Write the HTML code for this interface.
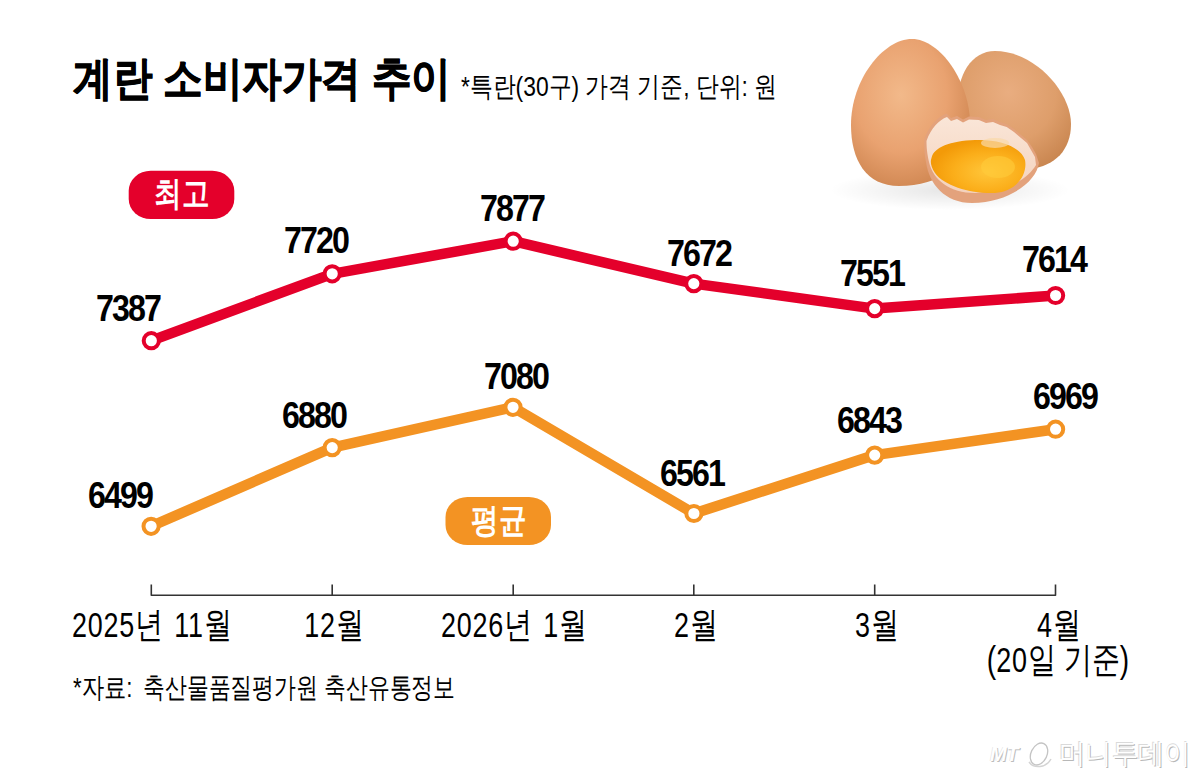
<!DOCTYPE html>
<html><head><meta charset="utf-8">
<style>
html,body{margin:0;padding:0;background:#fff;}
body{width:1200px;height:778px;position:relative;overflow:hidden;font-family:"Liberation Sans",sans-serif;color:#000;}
.t{position:absolute;white-space:nowrap;line-height:1;}
.c{transform:translateX(-50%) scaleX(var(--k));}
.l{transform-origin:0 0;transform:scaleX(var(--k));}
.num{font-weight:bold;font-size:37px;--k:0.87;letter-spacing:-2.2px;text-indent:0;}
.ax{font-size:36px;--k:0.78;word-spacing:4.4px;}
.d{font-size:34.5px;letter-spacing:1px;}
</style></head><body>
<div class="t l" style="left:73px;top:55px;font-size:46px;font-weight:bold;--k:0.86;-webkit-text-stroke:0.8px #000">계란 소비자가격 추이</div>
<div class="t l" style="left:461px;top:73px;font-size:28px;--k:0.816">*특란(30구) 가격 기준, 단위: 원</div>

<svg width="1200" height="778" style="position:absolute;left:0;top:0">
<defs>
<radialGradient id="eg1" cx="0.42" cy="0.38" r="0.65">
<stop offset="0" stop-color="#F2B98A"/><stop offset="0.6" stop-color="#E9A270"/><stop offset="1" stop-color="#D08752"/>
</radialGradient>
<radialGradient id="eg2" cx="0.45" cy="0.35" r="0.7">
<stop offset="0" stop-color="#E9AD80"/><stop offset="0.6" stop-color="#DE9E6B"/><stop offset="1" stop-color="#C98650"/>
</radialGradient>
<radialGradient id="yk" cx="0.6" cy="0.6" r="0.6">
<stop offset="0" stop-color="#FFC63A"/><stop offset="0.6" stop-color="#FBAE1A"/><stop offset="1" stop-color="#F39A08"/>
</radialGradient>
<linearGradient id="sh" x1="0" y1="0" x2="0" y2="1">
<stop offset="0" stop-color="#FAE6D8"/><stop offset="1" stop-color="#F4D2BC"/>
</linearGradient>
<radialGradient id="shd" cx="0.5" cy="0.5" r="0.5">
<stop offset="0" stop-color="#000" stop-opacity="0.10"/><stop offset="1" stop-color="#000" stop-opacity="0"/>
</radialGradient>
</defs>
<g id="eggs">
<ellipse cx="950" cy="190" rx="120" ry="20" fill="url(#shd)"/>
<path d="M958,122 C953,82 968,51 995,51 C1035,51 1071,92 1071,124 C1071,150 1055,166 1030,169 C1000,172 963,155 958,122Z" fill="url(#eg2)"/>
<path d="M912,39 C940,39 970,82 970,124 C970,165 940,186 899,186 C866,186 851,160 851,125 C851,80 883,39 912,39Z" fill="url(#eg1)"/>
<path d="M924.5,139 C929,126 937,117 946.5,113.5 L951,118 L957,116 L963,119.5 L969,116.5 L978.9,117 L986,120 L993,119 L1000,122 L1006.7,124 L1014,129 L1021,135 L1027,140 L1032,147 L1036,154 L1039,163 C1036,182 1010,202 972,203 C945,203 929,184 926,162 C924,152 924,145 924.5,139Z" fill="#E3A27C"/>
<path d="M926.5,141 C931,128 939,120 947,117 L951,121 L957,119 L963,122.5 L969,119.5 L978.9,120 L986,123 L993,122 L1000,125 L1006.7,127 L1014,132 L1021,138 L1027,143 L1031,150 L1035,157 L1036,165 C1028,178 1010,191 975,193 C950,193 933,180 929,162 C927,153 926.5,147 926.5,141Z" fill="url(#sh)"/>
<path d="M931.5,158 C934,147 950,141 975,140 C1000,139 1021,147 1025,160 C1028,176 1015,192 995,193 C972,194 944,186 935,173 C931,167 930,162 931.5,158Z" fill="url(#yk)"/>
<ellipse cx="998" cy="167" rx="17" ry="11" fill="#FFCB3A" opacity="0.6"/>
<ellipse cx="995" cy="143" rx="14" ry="5" fill="#F9D9A8" opacity="0.7"/>
</g>
<!-- axis -->
<path d="M151.3 584.5V595.2H1055.5V584.5M332.2 584.5V595.2M513.2 584.5V595.2M693.8 584.5V595.2M874.7 584.5V595.2" fill="none" stroke="#333" stroke-width="1.6" stroke-linejoin="round"/>
<!-- red line -->
<polyline points="151.3,340.7 332.2,273.8 513.2,241.2 693.8,283.6 874.7,308.6 1055.6,295.5" fill="none" stroke="#E4002B" stroke-width="10.5" stroke-linejoin="round"/>
<g fill="#fff" stroke="#E4002B" stroke-width="4">
<circle cx="151.3" cy="340.7" r="7.6"/><circle cx="332.2" cy="273.8" r="7.6"/><circle cx="513.2" cy="241.2" r="7.6"/><circle cx="693.8" cy="283.6" r="7.6"/><circle cx="874.7" cy="308.6" r="7.6"/><circle cx="1055.6" cy="295.5" r="7.6"/>
</g>
<polyline points="151.1,526.3 332.2,447.6 513,407.3 693.9,513.5 874.7,455.1 1055.6,429.2" fill="none" stroke="#F39323" stroke-width="10.5" stroke-linejoin="round"/>
<g fill="#fff" stroke="#F39323" stroke-width="4">
<circle cx="151.1" cy="526.3" r="7.6"/><circle cx="332.2" cy="447.6" r="7.6"/><circle cx="513" cy="407.3" r="7.6"/><circle cx="693.9" cy="513.5" r="7.6"/><circle cx="874.7" cy="455.1" r="7.6"/><circle cx="1055.6" cy="429.2" r="7.6"/>
</g>
<rect x="128.7" y="170.8" width="105.6" height="48.2" rx="22" ry="20" fill="#E4002B"/>
<rect x="445.5" y="497" width="105.5" height="48" rx="22" ry="20" fill="#F39323"/>
</svg>

<div class="t c" style="left:181.5px;top:176px;font-size:34px;font-weight:bold;color:#fff;--k:0.81">최고</div>
<div class="t c" style="left:498.7px;top:503px;font-size:34px;font-weight:bold;color:#fff;--k:0.81">평균</div>

<div class="t c num" style="left:128.0px;top:290.3px">7387</div>
<div class="t c num" style="left:316.0px;top:222.3px">7720</div>
<div class="t c num" style="left:512.4px;top:190.3px">7877</div>
<div class="t c num" style="left:698.5px;top:235.3px">7672</div>
<div class="t c num" style="left:872.0px;top:254.8px">7551</div>
<div class="t c num" style="left:1054.1px;top:241.3px">7614</div>

<div class="t c num" style="left:120.3px;top:477.3px">6499</div>
<div class="t c num" style="left:314.3px;top:397.3px">6880</div>
<div class="t c num" style="left:515.5px;top:358.3px">7080</div>
<div class="t c num" style="left:692.0px;top:455.3px">6561</div>
<div class="t c num" style="left:868.7px;top:402.3px">6843</div>
<div class="t c num" style="left:1064.7px;top:378.3px">6969</div>

<div class="t c ax" style="left:152px;top:607px"><span class="d">2025</span>년 <span class="d">11</span>월</div>
<div class="t c ax" style="left:334px;top:607px"><span class="d">12</span>월</div>
<div class="t c ax" style="left:514px;top:607px"><span class="d">2026</span>년 <span class="d">1</span>월</div>
<div class="t c ax" style="left:695.6px;top:607px"><span class="d">2</span>월</div>
<div class="t c ax" style="left:877px;top:607px"><span class="d">3</span>월</div>
<div class="t c ax" style="left:1058.7px;top:607px"><span class="d">4</span>월</div>
<div class="t c ax" style="left:1058px;top:642px;word-spacing:0">(<span class="d">20</span>일 기준)</div>

<div class="t l" style="left:73px;top:674px;font-size:28px;--k:0.796">*자료:</div>
<div class="t l" style="left:143px;top:674px;font-size:28px;--k:0.781">축산물품질평가원 축산유통정보</div>
<div class="t l" style="left:990px;top:744px;font-size:20px;font-weight:bold;font-style:italic;color:#fff;text-shadow:1px 1px 0 #bdbdbd,-0.5px -0.5px 0 #e0e0e0;--k:1.0;letter-spacing:-0.5px">MT</div>
<svg width="30" height="30" style="position:absolute;left:1024px;top:740px" viewBox="0 0 30 30"><ellipse cx="15" cy="14" rx="8" ry="11.5" transform="rotate(25 15 14)" fill="none" stroke="#c4c4c4" stroke-width="1.3"/><path d="M5 22 C10 29 22 28 27 19" fill="none" stroke="#d4d4d4" stroke-width="1.5"/></svg>
<div class="t l" style="left:1059px;top:740px;font-size:28px;color:#fff;text-shadow:1px 1px 0 #b8b8b8,-0.6px -0.6px 0 #dadada;--k:0.94">머니투데이</div>
</body></html>
